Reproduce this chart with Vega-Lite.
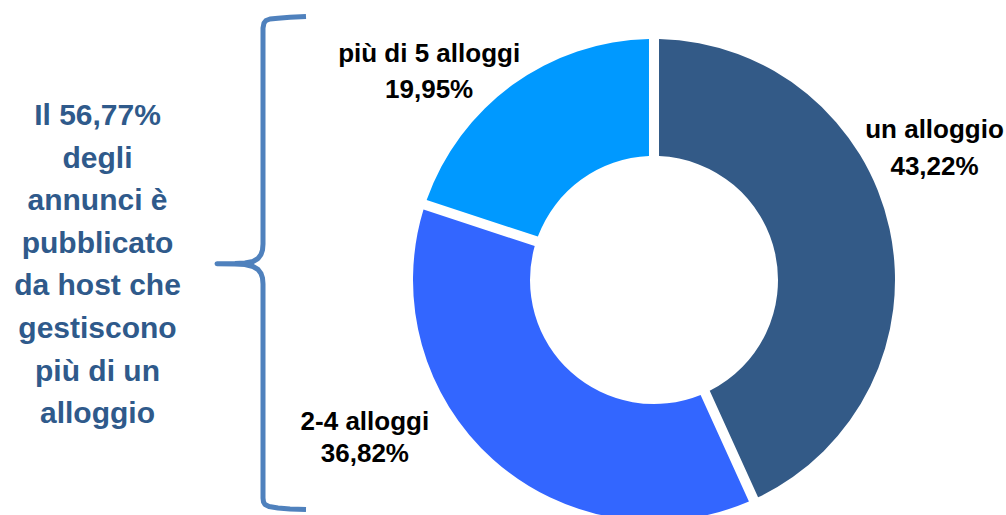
{
  "$schema": "https://vega.github.io/schema/vega-lite/v6.json",
  "padding": 0,
  "spacing": 0,
  "bounds": "flush",
  "background": "white",
  "config": {"view": {"stroke": null}, "concat": {"spacing": 0}},
  "hconcat": [
    {
      "width": 195,
      "height": 250,
      "data": {"values": [{"t": "Il 56,77%\ndegli\nannunci è\npubblicato\nda host che\ngestiscono\npiù di un\nalloggio"}]},
      "mark": {"type": "text", "lineBreak": "\n", "font": "Liberation Sans", "fontWeight": "bold", "fontSize": 30, "lineHeight": 42.6, "color": "#2F5A8B", "align": "center", "baseline": "alphabetic"},
      "encoding": {"text": {"field": "t"}}
    },
    {
      "width": 110,
      "height": 560,
      "data": {"values": [
        {"i": 1, "bx": 111, "by": 16.5}, {"i": 2, "bx": 95, "by": 17.3}, {"i": 3, "bx": 83, "by": 18.2},
        {"i": 4, "bx": 75, "by": 19}, {"i": 5, "bx": 71, "by": 20.5}, {"i": 6, "bx": 69, "by": 23},
        {"i": 7, "bx": 68, "by": 28},
        {"i": 8, "bx": 68, "by": 244}, {"i": 9, "bx": 67.5, "by": 250}, {"i": 10, "bx": 66, "by": 254.5},
        {"i": 11, "bx": 63, "by": 258.5}, {"i": 12, "bx": 58, "by": 261.5}, {"i": 13, "bx": 50, "by": 263},
        {"i": 14, "bx": 40, "by": 263.5}, {"i": 15, "bx": 22, "by": 263.7}, {"i": 16, "bx": 40, "by": 263.9},
        {"i": 17, "bx": 50, "by": 264.5}, {"i": 18, "bx": 58, "by": 266.5}, {"i": 19, "bx": 63, "by": 269.5},
        {"i": 20, "bx": 66, "by": 273.5}, {"i": 21, "bx": 67.5, "by": 278}, {"i": 22, "bx": 68, "by": 284},
        {"i": 23, "bx": 68, "by": 498}, {"i": 24, "bx": 68.5, "by": 502}, {"i": 25, "bx": 70, "by": 504.5},
        {"i": 26, "bx": 74, "by": 506.5}, {"i": 27, "bx": 83, "by": 508}, {"i": 28, "bx": 95, "by": 509},
        {"i": 29, "bx": 111, "by": 509.5}
      ]},
      "mark": {"type": "line", "color": "#4F81BD", "strokeWidth": 5, "strokeJoin": "round"},
      "encoding": {
        "x": {"field": "bx", "type": "quantitative", "scale": {"domain": [0, 110]}, "axis": null},
        "y": {"field": "by", "type": "quantitative", "scale": {"domain": [0, 560], "reverse": true}, "axis": null},
        "order": {"field": "i"}
      }
    },
    {
      "width": 698,
      "height": 560,
      "data": {"values": [
        {"cat": "un alloggio", "value": 43.22, "pct": "43,22%", "ord": 1},
        {"cat": "2-4 alloggi", "value": 36.82, "pct": "36,82%", "ord": 2},
        {"cat": "più di 5 alloggi", "value": 19.95, "pct": "19,95%", "ord": 3}
      ]},
      "layer": [
        {
          "mark": {"type": "arc", "innerRadius": 124, "outerRadius": 241, "padAngle": 0.037},
          "encoding": {
            "theta": {"field": "value", "type": "quantitative", "stack": true, "scale": {"domain": [0, 99.99]}},
            "order": {"field": "ord"},
            "color": {"field": "cat", "type": "nominal", "scale": {"domain": ["un alloggio", "2-4 alloggi", "più di 5 alloggi"], "range": ["#335A87", "#3366FF", "#0099FF"]}, "legend": null}
          }
        },
        {
          "transform": [
            {"stack": "value", "groupby": [], "sort": [{"field": "ord", "order": "ascending"}], "as": ["v0", "v1"]},
            {"calculate": "(datum.v0 + datum.v1) / 2", "as": "mid"},
            {"calculate": "datum.cat + '\\n' + datum.pct", "as": "lbl"}
          ],
          "encoding": {
            "theta": {"field": "mid", "type": "quantitative", "stack": null, "scale": {"domain": [0, 99.99]}},
            "text": {"field": "lbl"}
          },
          "layer": [
            {
              "transform": [{"filter": "datum.ord == 1"}],
              "mark": {"type": "text", "radius": 300, "dx": -12.7, "dy": -78.6, "lineBreak": "\n", "font": "Liberation Sans", "fontWeight": "bold", "fontSize": 26, "lineHeight": 36.5, "color": "#000000", "align": "center", "baseline": "alphabetic"}
            },
            {
              "transform": [{"filter": "datum.ord == 2"}],
              "mark": {"type": "text", "radius": 300, "dx": -88.8, "dy": -73.4, "lineBreak": "\n", "font": "Liberation Sans", "fontWeight": "bold", "fontSize": 26, "lineHeight": 32.5, "color": "#000000", "align": "center", "baseline": "alphabetic"}
            },
            {
              "transform": [{"filter": "datum.ord == 3"}],
              "mark": {"type": "text", "radius": 300, "dx": -48.9, "dy": 24.6, "lineBreak": "\n", "font": "Liberation Sans", "fontWeight": "bold", "fontSize": 26, "lineHeight": 36.5, "color": "#000000", "align": "center", "baseline": "alphabetic"}
            }
          ]
        }
      ]
    }
  ]
}
